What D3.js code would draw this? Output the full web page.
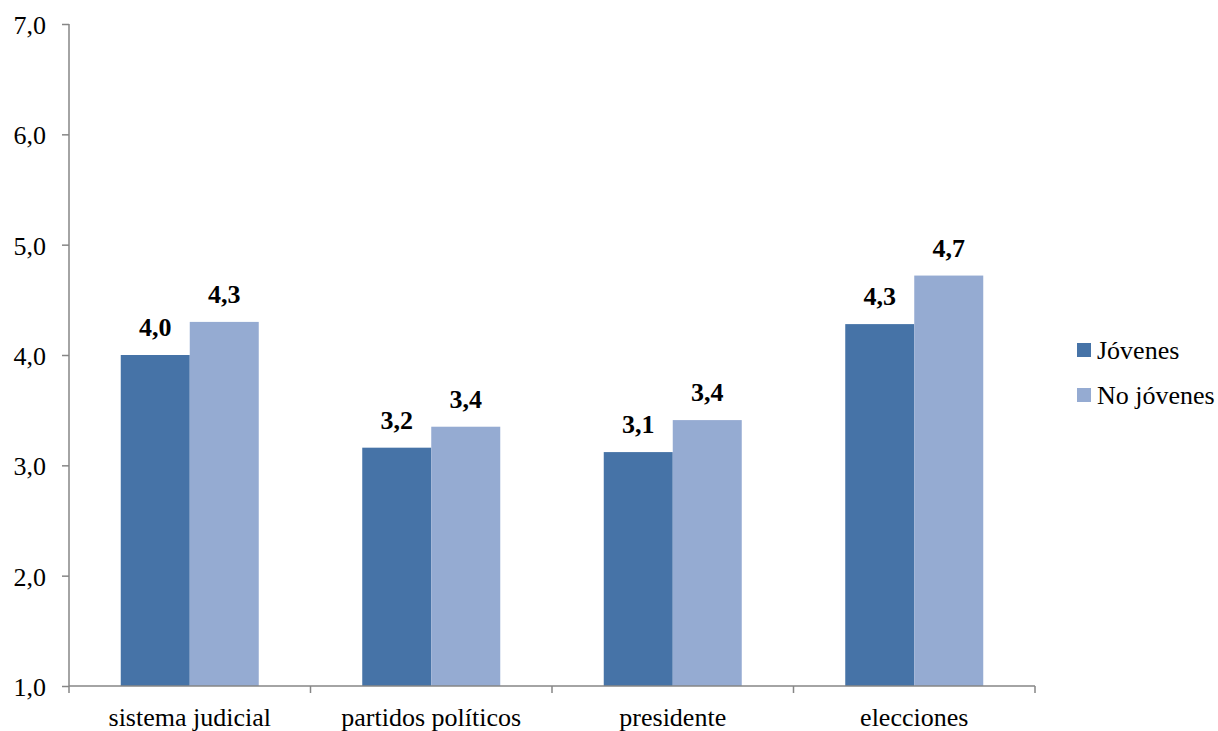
<!DOCTYPE html>
<html><head><meta charset="utf-8">
<script src="https://cdn.jsdelivr.net/npm/d3@7"></script>
<style>body{margin:0;background:#fff}svg{display:block}</style>
</head><body>
<svg id="c" width="1218" height="731" font-family="Liberation Serif"></svg>
<script>
const categories = ["sistema judicial","partidos políticos","presidente","elecciones"];
const seriesNames = ["Jóvenes","No jóvenes"];
const jovenes = [4.00, 3.16, 3.12, 4.28];
const noJovenes = [4.30, 3.35, 3.41, 4.72];
const yTicks = [1,2,3,4,5,6,7];
const colors = ["#4673a7","#95abd2"];

const FONT = "Liberation Serif";
const svg = d3.select("#c");
const x0 = d3.scaleBand().domain(categories).range([69,1035]).padding(0);
const x1 = d3.scaleBand().domain(seriesNames).range([0,x0.bandwidth()]).paddingInner(0).paddingOuter(0.75);
const y = d3.scaleLinear().domain([1,7]).range([686,24]);
const fmt = v => d3.format(".1f")(v).replace(".",",");
const axisColor = "#868686";

const data = categories.map((c,i)=>({cat:c, vals:[{s:seriesNames[0],v:jovenes[i]},{s:seriesNames[1],v:noJovenes[i]}]}));

// bars
const g = svg.selectAll("g.cat").data(data).join("g").attr("class","cat")
  .attr("transform",d=>`translate(${x0(d.cat)},0)`);
g.selectAll("rect").data(d=>d.vals).join("rect")
  .attr("x",d=>x1(d.s)).attr("width",x1.bandwidth())
  .attr("y",d=>y(d.v)).attr("height",d=>y(1)-y(d.v))
  .attr("fill",(d,i)=>colors[i]);
g.selectAll("text.lbl").data(d=>d.vals).join("text").attr("class","lbl")
  .attr("x",d=>x1(d.s)+x1.bandwidth()/2).attr("y",d=>y(d.v)-19)
  .attr("text-anchor","middle").attr("font-size",26).attr("font-weight","bold")
  .attr("font-family", FONT)
  .text(d=>fmt(d.v));

// y axis
const yAxis = svg.append("g").attr("transform","translate(69,0)")
  .call(d3.axisLeft(y).tickValues(yTicks).tickSize(7).tickPadding(16).tickFormat(fmt));
yAxis.attr("font-family", FONT);
yAxis.select(".domain").attr("stroke",axisColor).attr("stroke-width",1.5).attr("d","M0,24V686");
yAxis.selectAll(".tick line").attr("stroke",axisColor).attr("stroke-width",1.5);
yAxis.selectAll(".tick text").attr("font-size",26).attr("font-family", FONT).attr("fill","#000").attr("dy","0.36em");

// x axis
const bounds = categories.map(c=>x0(c)).concat([x0.range()[1]]);
const xg = svg.append("g");
xg.append("line").attr("x1",69).attr("x2",1035).attr("y1",y(1)).attr("y2",y(1))
  .attr("stroke",axisColor).attr("stroke-width",1.5);
xg.selectAll("line.t").data(bounds).join("line").attr("class","t")
  .attr("x1",d=>d).attr("x2",d=>d).attr("y1",y(1)).attr("y2",y(1)+7)
  .attr("stroke",axisColor).attr("stroke-width",1.5);
xg.selectAll("text").data(categories).join("text")
  .attr("x",d=>x0(d)+x0.bandwidth()/2).attr("y",726)
  .attr("text-anchor","middle").attr("font-size",26).attr("font-family", FONT).text(d=>d);

// legend
const lg = svg.selectAll("g.leg").data(seriesNames).join("g").attr("class","leg")
  .attr("transform",(d,i)=>`translate(1077,${343+i*45})`);
lg.append("rect").attr("width",14).attr("height",14).attr("fill",(d,i)=>colors[i]);
lg.append("text").attr("x",20).attr("y",16).attr("font-size",26).attr("font-family", FONT).text(d=>d);
</script>
</body></html>
